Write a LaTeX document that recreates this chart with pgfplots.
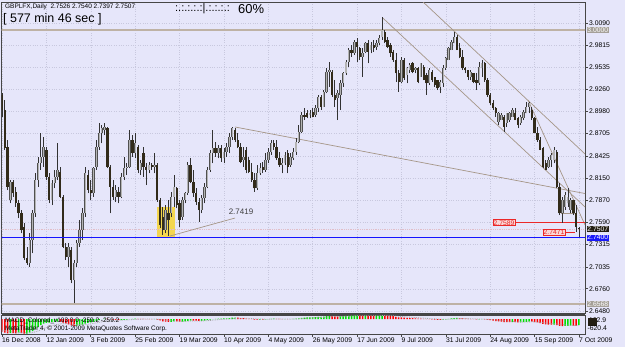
\documentclass[border=0pt]{standalone}
\usepackage{fontspec}
\setmainfont{Liberation Sans}
\usepackage{pgfplots}
\usepackage{pgfplotstable}
\pgfplotsset{compat=1.18}
\definecolor{bg}{RGB}{230,230,250}
\definecolor{framec}{RGB}{70,70,70}
\definecolor{wick}{RGB}{50,50,50}
\definecolor{bear}{RGB}{50,43,26}
\definecolor{bullfill}{RGB}{180,180,180}
\definecolor{bullline}{RGB}{80,80,80}
\definecolor{trend}{RGB}{165,150,135}
\definecolor{levelc}{RGB}{190,178,165}
\definecolor{gridc}{RGB}{200,200,222}
\definecolor{yel}{RGB}{244,214,80}
\definecolor{lvlbox}{RGB}{165,160,152}
\definecolor{curbox}{RGB}{35,30,18}
\definecolor{bluebox}{RGB}{25,25,250}
\definecolor{blueline}{RGB}{20,20,255}
\definecolor{redc}{RGB}{235,40,40}
\definecolor{pinkc}{RGB}{250,215,215}
\definecolor{bidc}{RGB}{225,190,200}
\definecolor{macdred}{RGB}{255,0,0}
\definecolor{macdgreen}{RGB}{0,225,0}
\definecolor{sigc}{RGB}{165,165,165}
\newcommand\tickfont{\fontsize{6.8}{7}\selectfont}

\pgfplotstableread{
i O H L C
0 2.9188 2.9208 2.8916 2.9000
1 2.9000 2.9125 2.8498 2.8519
2 2.8540 2.8624 2.7997 2.8039
3 2.7872 2.8122 2.7830 2.8102
4 2.8102 2.8122 2.7913 2.7955
5 2.7976 2.8039 2.7788 2.7830
6 2.7830 2.7872 2.7642 2.7704
7 2.7704 2.7746 2.7454 2.7495
8 2.7537 2.7579 2.7119 2.7140
9 2.7140 2.7286 2.7057 2.7078
10 2.7078 2.7454 2.7036 2.7370
11 2.7370 2.7746 2.7203 2.7704
12 2.7704 2.8206 2.7663 2.8122
13 2.8122 2.8415 2.8039 2.8331
14 2.8331 2.8707 2.8248 2.8415
15 2.8415 2.8665 2.8290 2.8540
16 2.8498 2.8540 2.8122 2.8164
17 2.8164 2.8206 2.7830 2.7872
18 2.7872 2.8122 2.7809 2.8081
19 2.8081 2.8248 2.8018 2.8164
20 2.8164 2.8582 2.8122 2.8248
21 2.8227 2.8290 2.7893 2.7913
22 2.7913 2.7934 2.7266 2.7286
23 2.7286 2.7328 2.7119 2.7161
24 2.7161 2.7328 2.7036 2.7286
25 2.7245 2.7286 2.6827 2.6869
26 2.6869 2.7119 2.6576 2.7078
27 2.7078 2.7370 2.7036 2.7328
28 2.7328 2.7621 2.7286 2.7495
29 2.7495 2.7767 2.7370 2.7704
30 2.7704 2.8290 2.7663 2.8206
31 2.8185 2.8248 2.7955 2.7997
32 2.7997 2.8122 2.7872 2.7955
33 2.7955 2.8290 2.7913 2.8269
34 2.8290 2.8624 2.8248 2.8540
35 2.8540 2.8833 2.8498 2.8707
36 2.8707 2.8812 2.8582 2.8770
37 2.8749 2.8833 2.8686 2.8791
38 2.8770 2.8791 2.8269 2.8290
39 2.8290 2.8310 2.7704 2.8039
40 2.8039 2.8122 2.7872 2.7913
41 2.7913 2.8060 2.7851 2.7997
42 2.7976 2.8039 2.7830 2.7913
43 2.7913 2.8206 2.7893 2.8164
44 2.8164 2.8415 2.8122 2.8269
45 2.8269 2.8331 2.8185 2.8290
46 2.8290 2.8749 2.8269 2.8624
47 2.8624 2.8686 2.8415 2.8457
48 2.8457 2.8707 2.8394 2.8582
49 2.8540 2.8561 2.8206 2.8248
50 2.8248 2.8373 2.8185 2.8331
51 2.8457 2.8540 2.8164 2.8290
52 2.8290 2.8331 2.8060 2.8248
53 2.8248 2.8352 2.8206 2.8310
54 2.8310 2.8331 2.8248 2.8290
55 2.8290 2.8457 2.8206 2.8310
56 2.8310 2.8331 2.7851 2.7872
57 2.7872 2.7893 2.7516 2.7558
58 2.7663 2.7788 2.7433 2.7495
59 2.7495 2.7809 2.7454 2.7746
60 2.7704 2.7872 2.7419 2.7621
61 2.7704 2.7976 2.7663 2.7913
62 2.7913 2.8185 2.7788 2.8039
63 2.8018 2.8039 2.7767 2.7809
64 2.7830 2.7872 2.7537 2.7621
65 2.7663 2.7913 2.7621 2.7872
66 2.7872 2.7976 2.7830 2.7955
67 2.7955 2.8352 2.7934 2.8310
68 2.8310 2.8394 2.8081 2.8102
69 2.8102 2.8248 2.7913 2.7955
70 2.7955 2.8018 2.7809 2.7851
71 2.7851 2.7893 2.7600 2.7746
72 2.7746 2.7934 2.7704 2.7893
73 2.7893 2.8081 2.7830 2.8039
74 2.8039 2.8290 2.8018 2.8248
75 2.8248 2.8498 2.8227 2.8457
76 2.8457 2.8749 2.8331 2.8519
77 2.8519 2.8603 2.8415 2.8457
78 2.8457 2.8561 2.8394 2.8519
79 2.8519 2.8561 2.8352 2.8394
80 2.8394 2.8519 2.8331 2.8477
81 2.8477 2.8582 2.8415 2.8540
82 2.8540 2.8707 2.8457 2.8665
83 2.8665 2.8791 2.8624 2.8770
84 2.8749 2.8770 2.8603 2.8624
85 2.8624 2.8707 2.8519 2.8540
86 2.8540 2.8582 2.8331 2.8352
87 2.8373 2.8540 2.8290 2.8415
88 2.8498 2.8540 2.8206 2.8248
89 2.8373 2.8415 2.8206 2.8227
90 2.8227 2.8331 2.8102 2.8122
91 2.8122 2.8206 2.7976 2.8018
92 2.8018 2.8310 2.7997 2.8206
93 2.8206 2.8331 2.8185 2.8269
94 2.8290 2.8352 2.8206 2.8248
95 2.8248 2.8457 2.8227 2.8373
96 2.8373 2.8519 2.8331 2.8477
97 2.8477 2.8624 2.8436 2.8582
98 2.8582 2.8624 2.8498 2.8540
99 2.8540 2.8624 2.8373 2.8394
100 2.8394 2.8477 2.8290 2.8310
101 2.8310 2.8394 2.8206 2.8331
102 2.8331 2.8477 2.8310 2.8436
103 2.8457 2.8498 2.8206 2.8290
104 2.8310 2.8457 2.8290 2.8415
105 2.8394 2.8519 2.8373 2.8477
106 2.8477 2.8645 2.8436 2.8603
107 2.8603 2.8812 2.8582 2.8728
108 2.8728 2.8979 2.8707 2.8937
109 2.8937 2.9020 2.8874 2.8916
110 2.8958 2.9000 2.8895 2.8916
111 2.8937 2.9000 2.8895 2.8958
112 2.8979 2.9020 2.8916 2.8916
113 2.8937 2.9062 2.8916 2.9020
114 2.9020 2.9188 2.8979 2.9167
115 2.9167 2.9188 2.9000 2.9041
116 2.9041 2.9250 2.9041 2.9229
117 2.9229 2.9522 2.9208 2.9480
118 2.9480 2.9605 2.9292 2.9501
119 2.9480 2.9501 2.9167 2.9188
120 2.9188 2.9375 2.9041 2.9125
121 2.9146 2.9250 2.8874 2.9208
122 2.9188 2.9375 2.9000 2.9334
123 2.9334 2.9480 2.9292 2.9459
124 2.9459 2.9626 2.9438 2.9605
125 2.9605 2.9772 2.9543 2.9751
126 2.9751 2.9814 2.9668 2.9710
127 2.9710 2.9877 2.9689 2.9856
128 2.9856 2.9898 2.9605 2.9793
129 2.9772 2.9793 2.9626 2.9668
130 2.9668 2.9772 2.9417 2.9710
131 2.9731 2.9856 2.9710 2.9835
132 2.9835 2.9877 2.9584 2.9731
133 2.9751 2.9856 2.9710 2.9814
134 2.9814 2.9877 2.9731 2.9772
135 2.9793 2.9877 2.9751 2.9835
136 2.9835 2.9939 2.9814 2.9898
137 2.9919 3.0169 2.9877 3.0002
138 2.9981 3.0002 2.9835 2.9856
139 2.9877 2.9919 2.9772 2.9793
140 2.9814 2.9835 2.9668 2.9710
141 2.9731 2.9751 2.9605 2.9626
142 2.9626 2.9710 2.9355 2.9459
143 2.9459 2.9501 2.9229 2.9355
144 2.9355 2.9668 2.9334 2.9626
145 2.9626 2.9647 2.9375 2.9396
146 2.9438 2.9543 2.9334 2.9522
147 2.9501 2.9584 2.9459 2.9563
148 2.9584 2.9605 2.9459 2.9480
149 2.9501 2.9543 2.9459 2.9522
150 2.9522 2.9543 2.9334 2.9355
151 2.9417 2.9584 2.9417 2.9584
152 2.9543 2.9563 2.9375 2.9375
153 2.9438 2.9459 2.9188 2.9334
154 2.9334 2.9522 2.9313 2.9501
155 2.9480 2.9501 2.9355 2.9375
156 2.9417 2.9417 2.9292 2.9313
157 2.9375 2.9375 2.9250 2.9271
158 2.9292 2.9375 2.9208 2.9355
159 2.9334 2.9563 2.9292 2.9522
160 2.9522 2.9668 2.9501 2.9647
161 2.9626 2.9793 2.9626 2.9772
162 2.9751 2.9877 2.9751 2.9856
163 2.9835 2.9981 2.9835 2.9919
164 2.9919 2.9939 2.9751 2.9751
165 2.9772 2.9835 2.9647 2.9668
166 2.9668 2.9751 2.9501 2.9522
167 2.9522 2.9543 2.9459 2.9501
168 2.9501 2.9501 2.9375 2.9417
169 2.9417 2.9501 2.9375 2.9480
170 2.9459 2.9459 2.9334 2.9355
171 2.9375 2.9459 2.9250 2.9334
172 2.9334 2.9605 2.9313 2.9543
173 2.9522 2.9626 2.9417 2.9584
174 2.9584 2.9605 2.9355 2.9375
175 2.9375 2.9396 2.9167 2.9188
176 2.9188 2.9208 2.9062 2.9083
177 2.9083 2.9125 2.9000 2.9020
178 2.9020 2.9041 2.8916 2.8958
179 2.8853 2.8979 2.8812 2.8958
180 2.8874 2.8958 2.8874 2.8937
181 2.8916 2.8937 2.8728 2.8791
182 2.8833 2.8958 2.8791 2.8958
183 2.8874 2.8979 2.8853 2.8958
184 2.8916 2.9020 2.8916 2.9000
185 2.8958 2.9020 2.8874 2.8874
186 2.8895 2.8916 2.8770 2.8812
187 2.8833 2.8937 2.8812 2.8916
188 2.8895 2.9000 2.8874 2.8979
189 2.8958 2.9104 2.8958 2.9041
190 2.9041 2.9104 2.8958 2.9083
191 2.9000 2.9041 2.8874 2.8895
192 2.8895 2.8916 2.8707 2.8707
193 2.8707 2.8791 2.8603 2.8624
194 2.8624 2.8665 2.8498 2.8498
195 2.8519 2.8540 2.8269 2.8290
196 2.8331 2.8373 2.8248 2.8248
197 2.8290 2.8415 2.8269 2.8373
198 2.8373 2.8457 2.8290 2.8436
199 2.8373 2.8540 2.8331 2.8498
200 2.8477 2.8498 2.8018 2.8039
201 2.8039 2.8081 2.7684 2.7704
202 2.7704 2.7913 2.7589 2.7872
203 2.7788 2.7976 2.7746 2.7934
204 2.7830 2.8018 2.7788 2.7913
205 2.7746 2.7893 2.7704 2.7872
206 2.7872 2.7872 2.7684 2.7704
207 2.7704 2.7809 2.7471 2.7530
208 2.7526 2.7540 2.7397 2.7507
}\candles

\pgfplotstableread{
i m s u
0 -540 -480 0
1 -575 -500 0
2 -610 -520 0
3 -600 -535 1
4 -605 -550 0
5 -612 -560 0
6 -600 -570 1
7 -605 -578 0
8 -620 -585 0
9 -618 -590 1
10 -585 -590 1
11 -520 -575 1
12 -430 -550 1
13 -340 -510 1
14 -260 -460 1
15 -190 -410 1
16 -160 -360 1
17 -150 -320 1
18 -135 -285 1
19 -120 -255 1
20 -105 -225 1
21 -110 -205 0
22 -150 -195 0
23 -195 -195 0
24 -225 -200 0
25 -270 -215 0
26 -290 -230 0
27 -285 -240 1
28 -265 -245 1
29 -235 -245 1
30 -190 -235 1
31 -165 -220 1
32 -145 -205 1
33 -115 -185 1
34 -80 -165 1
35 -40 -140 1
36 -5 -115 1
37 20 -85 1
38 15 -65 0
39 -5 -50 0
40 -25 -45 0
41 -35 -42 0
42 -45 -42 0
43 -40 -42 1
44 -30 -40 1
45 -22 -36 1
46 0 -30 1
47 8 -22 1
48 18 -14 1
49 12 -8 0
50 10 -4 0
51 6 0 0
52 0 2 0
53 -2 2 0
54 -3 2 0
55 -2 2 1
56 -25 -3 0
57 -60 -13 0
58 -95 -29 0
59 -105 -44 0
60 -118 -59 0
61 -115 -70 1
62 -100 -76 1
63 -100 -81 0
64 -110 -87 0
65 -105 -90 1
66 -98 -92 1
67 -75 -89 1
68 -65 -84 1
69 -65 -81 0
70 -70 -79 0
71 -80 -79 0
72 -75 -78 1
73 -62 -75 1
74 -42 -68 1
75 -18 -58 1
76 0 -46 1
77 10 -35 1
78 20 -24 1
79 22 -15 1
80 26 -6 1
81 32 2 1
82 45 10 1
83 60 20 1
84 62 28 1
85 58 34 0
86 45 36 0
87 38 37 0
88 25 35 0
89 12 31 0
90 -2 24 0
91 -20 15 0
92 -20 8 0
93 -18 3 1
94 -18 -1 0
95 -12 -3 1
96 -2 -3 1
97 10 -1 1
98 16 2 1
99 14 5 0
100 6 5 0
101 2 5 0
102 4 5 1
103 0 4 0
104 2 4 1
105 6 4 1
106 15 6 1
107 30 11 1
108 50 19 1
109 62 27 1
110 70 36 1
111 78 44 1
112 82 52 1
113 88 59 1
114 98 67 1
115 100 74 1
116 106 80 1
117 125 89 1
118 138 99 1
119 130 105 0
120 120 108 0
121 115 110 0
122 118 111 1
123 124 114 1
124 134 118 1
125 148 124 1
126 153 130 1
127 158 136 1
128 160 141 1
129 155 144 0
130 150 145 0
131 152 147 1
132 148 147 0
133 148 147 0
134 145 147 0
135 146 147 1
136 150 147 1
137 162.9 150 1
138 158 152 0
139 150 151 0
140 138 149 0
141 122 143 0
142 100 135 0
143 78 123 0
144 72 113 0
145 58 102 0
146 50 92 0
147 46 83 0
148 38 74 0
149 32 66 0
150 20 57 0
151 18 49 0
152 10 41 0
153 -2 33 0
154 -4 25 0
155 -10 18 0
156 -20 10 0
157 -30 2 0
158 -34 -5 0
159 -25 -9 1
160 -10 -9 1
161 8 -5 1
162 28 2 1
163 45 11 1
164 48 18 1
165 44 24 0
166 32 25 0
167 22 24 0
168 10 21 0
169 4 18 0
170 -6 13 0
171 -14 7 0
172 -8 4 1
173 -2 3 1
174 -10 0 0
175 -28 -6 0
176 -48 -14 0
177 -68 -25 0
178 -88 -37 0
179 -100 -50 0
180 -110 -62 0
181 -125 -75 0
182 -130 -86 0
183 -132 -95 0
184 -130 -102 1
185 -134 -109 0
186 -140 -115 0
187 -138 -120 1
188 -132 -122 1
189 -120 -122 1
190 -108 -119 1
191 -110 -117 0
192 -125 -119 0
193 -145 -124 0
194 -170 -133 0
195 -205 -148 0
196 -230 -164 0
197 -240 -179 0
198 -242 -192 0
199 -236 -201 1
200 -255 -212 0
201 -290 -228 0
202 -300 -242 0
203 -296 -253 1
204 -290 -260 1
205 -284 -265 1
206 -285 -269 0
207 -290 -273 0
208 -259.2 -259.2 1
}\macd

\begin{document}
\begin{tikzpicture}[x=1bp,y=1bp]
\useasboundingbox (0,0) rectangle (625,-347);
\fill[bg] (0,0) rectangle (625,-347);
\begin{axis}[
  at={(1.5bp,-2bp)}, anchor=north west,
  scale only axis, width=583.5bp, height=311bp,
  xmin=-0.18, xmax=210.17, ymin=2.6456, ymax=3.0353,
  axis line style={draw=framec, line width=0.9bp},
  xtick={0,16,...,208}, xticklabels={},
  xtick style={draw=none},
  ytick={2.6480,2.6760,2.7035,2.7315,2.7590,2.7870,2.8150,2.8425,2.8705,2.8980,2.9260,2.9535,2.9815,3.0090},
  yticklabels={2.6480,2.6760,2.7035,2.7315,2.7590,2.7870,2.8150,2.8425,2.8705,2.8980,2.9260,2.9535,2.9815,3.0090},
  ytick pos=right, yticklabel pos=right,
  tick align=outside, major tick length=3bp,
  ytick style={draw=framec, line width=0.6bp},
  yticklabel style={font=\tickfont, inner sep=1bp},
  grid=major, major grid style={draw=gridc, dotted, line width=0.45bp},
]
\fill[yel] (55.9,2.7408) rectangle (62.4,2.7784);
\draw[levelc, line width=1.6bp] (-1,3.0000) -- (212,3.0000);
\draw[levelc, line width=2bp] (-1,2.6568) -- (212,2.6568);
\draw[bidc, line width=0.8bp, densely dotted] (-1,2.7507) -- (212,2.7507);
\draw[trend, line width=0.7bp] (60.56,2.7421) -- (84.0,2.7646);
\draw[trend, line width=0.7bp] (84.0,2.8787) -- (210.2,2.7953);
\draw[trend, line width=0.7bp] (137.3,3.0152) -- (210.2,2.7784);
\draw[trend, line width=0.7bp] (151.8,3.0353) -- (210.2,2.8448);
\draw[trend, line width=0.7bp] (189.6,2.9125) -- (210.2,2.7558);
\draw[trend, line width=0.7bp] (201.5,2.7709) -- (206.6,2.7709);
\draw[redc, line width=0.8bp] (184.9,2.7589) -- (210.2,2.7589);
\draw[redc, line width=0.8bp] (203.0,2.7471) -- (206.6,2.7471);
% wicks
\addplot[draw=none, mark=none,
  error bars/.cd, y dir=plus, y explicit, error mark=none,
  error bar style={draw=wick, line width=0.8bp, solid}]
  table[x=i, y=L, y error plus expr=\thisrow{H}-\thisrow{L}] {\candles};
% bear bodies
\addplot[draw=none, mark=none,
  restrict expr to domain={\thisrow{O}-\thisrow{C}}{0:1},
  error bars/.cd, y dir=plus, y explicit, error mark=none,
  error bar style={draw=bear, line width=2.3bp, solid}]
  table[x=i, y=C, y error plus expr=\thisrow{O}-\thisrow{C}] {\candles};
% bull bodies
\addplot[draw=none, mark=none,
  restrict expr to domain={\thisrow{C}-\thisrow{O}}{0:1},
  error bars/.cd, y dir=plus, y explicit, error mark=none,
  error bar style={draw=bullline, line width=2.4bp, solid}]
  table[x=i, y=O, y error plus expr=\thisrow{C}-\thisrow{O}] {\candles};
\addplot[draw=none, mark=none,
  restrict expr to domain={\thisrow{C}-\thisrow{O}}{0:1},
  error bars/.cd, y dir=plus, y explicit, error mark=none,
  error bar style={draw=bullfill, line width=1.1bp, solid}]
  table[x=i, y=O, y error plus expr=\thisrow{C}-\thisrow{O}] {\candles};
\draw[blueline, line width=1.3bp] (-1,2.7400) -- (212,2.7400);
\end{axis}
% separator
\draw[framec, line width=2.4bp] (1.5,-314.2) -- (585,-314.2);
\begin{axis}[
  at={(1.5bp,-315bp)}, anchor=north west,
  scale only axis, width=583.5bp, height=19bp,
  xmin=-0.18, xmax=210.17, ymin=-640, ymax=175,
  axis line style={draw=framec, line width=0.9bp},
  xtick={0,16,...,208},
  xticklabels={16 Dec 2008,12 Jan 2009,3 Feb 2009,25 Feb 2009,19 Mar 2009,10 Apr 2009,4 May 2009,26 May 2009,17 Jun 2009,9 Jul 2009,31 Jul 2009,24 Aug 2009,15 Sep 2009,7 Oct 2009},
  xtick pos=bottom, tick align=outside, major tick length=2.5bp,
  xtick style={draw=framec, line width=0.6bp},
  xticklabel style={font=\tickfont, anchor=north west, inner sep=0.5bp, xshift=-0.5bp, yshift=-0.8bp},
  ytick=\empty,
]
\addplot[ybar, bar width=1.5bp, bar shift=0pt, fill=macdred, draw=none,
  restrict expr to domain={\thisrow{u}}{-0.5:0.5}] table[x=i, y=m] {\macd};
\addplot[ybar, bar width=1.5bp, bar shift=0pt, fill=macdgreen, draw=none,
  restrict expr to domain={\thisrow{u}}{0.5:1.5}] table[x=i, y=m] {\macd};
\addplot[sigc, densely dotted, line width=0.8bp, mark=none] table[x=i, y=s] {\macd};
\end{axis}
% MACD scale labels
\node[anchor=west, font=\tickfont, inner sep=0] at (589,-320.3) {162.9};
\fill[curbox] (588,-317.8) rectangle (596.5,-325.5);
\node[anchor=west, font=\tickfont, inner sep=0] at (587.5,-328.6) {-620.4};
% right-axis level boxes
\node[fill=lvlbox, text=white, font=\tickfont, inner sep=0.7bp, anchor=west] at (586.5,-30.2) {3.0000};
\node[fill=lvlbox, text=white, font=\tickfont, inner sep=0.7bp, anchor=west] at (586.5,-304.0) {2.6568};
\node[fill=curbox, text=white, font=\tickfont, inner sep=0.7bp, anchor=west] at (586.5,-229.1) {2.7507};
\node[fill=bluebox, text=white, font=\tickfont, inner sep=0.7bp, anchor=west] at (586.5,-237.6) {2.7400};
% red labels
\node[fill=pinkc, draw=redc, line width=0.6bp, text=redc, font=\tickfont, inner sep=0.6bp] at (504,-222.7) {2.7589};
\node[fill=pinkc, draw=redc, line width=0.6bp, text=redc, font=\tickfont, inner sep=0.6bp] at (554,-232.0) {2.7471};
\node[font=\fontsize{8}{9}\selectfont, text=black!75] at (241,-211.5) {2.7419};
% title texts
\node[anchor=west, font=\fontsize{6.5}{7}\selectfont, inner sep=0] at (5,-6.5) {GBPLFX,Daily\ \ 2.7526 2.7540 2.7397 2.7507};
\node[anchor=west, font=\fontsize{12.5}{13}\selectfont, inner sep=0] at (3,-19.5) {[ 577 min 46 sec ]};
\node[anchor=west, font=\fontsize{11}{12}\selectfont, inner sep=0] at (175,-9) {:.:.:.:.:|.:.:.:.:};
\node[anchor=west, font=\fontsize{13}{14}\selectfont, inner sep=0] at (238,-9.5) {60\%};
% MACD texts
\node[anchor=west, font=\fontsize{6.5}{7}\selectfont, inner sep=0] at (5,-320.5) {MACD\_Colored\_v103 0.0 -259.2 -259.2};
\node[anchor=west, font=\fontsize{6.5}{7}\selectfont, inner sep=0] at (5,-329) {MetaTrader 4, © 2001-2009 MetaQuotes Software Corp.};
\end{tikzpicture}
\end{document}
